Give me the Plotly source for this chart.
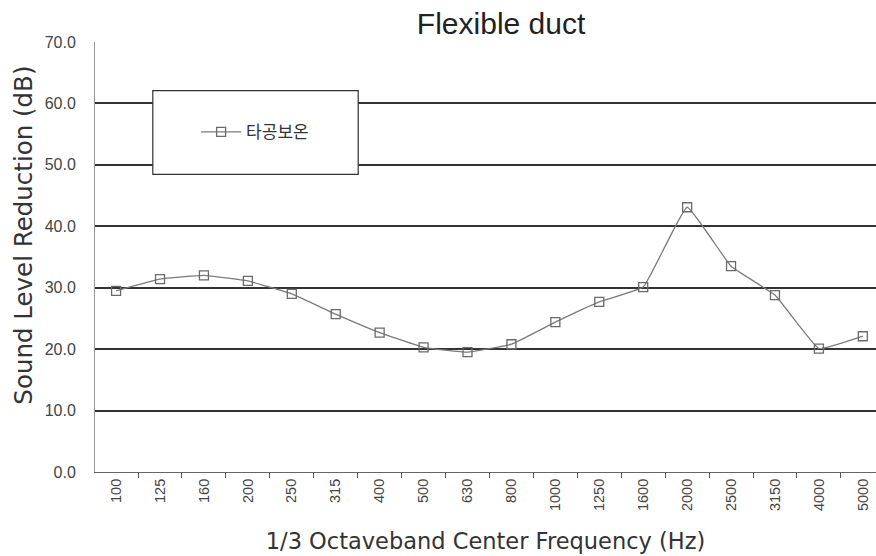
import plotly.graph_objects as go

# 1/3 octave band centre frequencies (Hz)
freqs = ["100", "125", "160", "200", "250", "315", "400", "500", "630",
         "800", "1000", "1250", "1600", "2000", "2500", "3150", "4000", "5000"]
# Sound level reduction (dB), perforated insulated duct
reduction = [29.5, 31.4, 32.0, 31.1, 29.0, 25.7, 22.7, 20.3, 19.5,
             20.8, 24.4, 27.7, 30.1, 43.1, 33.5, 28.8, 20.1, 22.1]
series_name = "타공보온"
y_ticks = [0, 10, 20, 30, 40, 50, 60, 70]
grid_vals = [10, 20, 30, 40, 50, 60]

font_main = "Liberation Sans, Arial, sans-serif"
font_wide = "DejaVu Sans, Verdana, sans-serif"
line_col = "#7a7a7a"

fig = go.Figure()
fig.add_trace(go.Scatter(
    x=freqs, y=reduction, name=series_name, mode="lines+markers",
    line=dict(color=line_col, width=1.3, shape="spline", smoothing=0.3),
    marker=dict(symbol="square-open", size=9, color="#6a6a6a",
                line=dict(width=1.3, color="#6a6a6a")),
))

# legend frame
fig.add_shape(type="rect", xref="paper", yref="paper",
              x0=0.074, x1=0.337, y0=0.692, y1=0.887,
              fillcolor="white", line=dict(color="#333", width=1.2),
              layer="above")

# y-axis title, placed a little above the plot centre
fig.add_annotation(text="Sound Level Reduction (dB)", textangle=-90,
                   xref="paper", yref="paper", x=-0.092, y=0.55,
                   xanchor="center", yanchor="middle", showarrow=False,
                   font=dict(size=24.5, color="#333", family=font_wide))

fig.update_layout(
    width=876, height=556,
    margin=dict(l=95, r=0, t=42, b=84),
    paper_bgcolor="white", plot_bgcolor="white",
    font=dict(family=font_main, color="#333"),
    title=dict(text="Flexible duct", x=0.572, xanchor="center",
               y=0.957, yanchor="middle",
               font=dict(size=30, color="#222", family=font_main)),
    showlegend=True,
    legend=dict(x=0.205, y=0.79, xanchor="center", yanchor="middle",
                bgcolor="rgba(0,0,0,0)", borderwidth=0,
                font=dict(size=17, color="#333", family="Noto Sans CJK KR"),
                itemwidth=40),
    xaxis=dict(
        type="category", categoryorder="array", categoryarray=freqs,
        range=[-0.48, 17.3],
        tickangle=-90, tickfont=dict(size=14.5, color="#444", family=font_main),
        ticks="outside", ticklen=5, tickcolor="#555", tickson="boundaries",
        showline=True, linecolor="#666", linewidth=1,
        showgrid=False, zeroline=False,
        title=dict(text="1/3 Octaveband Center Frequency (Hz)",
                   font=dict(size=22.5, color="#333", family=font_wide),
                   standoff=23),
    ),
    yaxis=dict(
        range=[0, 70], tickvals=y_ticks,
        ticktext=[f"{v:.1f}" for v in y_ticks],
        tickfont=dict(size=16, color="#444", family=font_main),
        showline=True, linecolor="#999", linewidth=1, mirror=False,
        showgrid=True, gridcolor="#d4d4d4", gridwidth=1,
        zeroline=False, ticks="", ticklabelstandoff=15,
    ),
    # dark horizontal grid for the inner ticks
    yaxis2=dict(
        range=[0, 70], tickvals=grid_vals, overlaying="y",
        showticklabels=False, showgrid=True, gridcolor="#333",
        gridwidth=1.5, zeroline=False, showline=False, ticks="",
    ),
)
fig.add_trace(go.Scatter(x=[freqs[0]], y=[None], yaxis="y2",
                         showlegend=False, hoverinfo="skip"))

fig.write_html("out.html")
